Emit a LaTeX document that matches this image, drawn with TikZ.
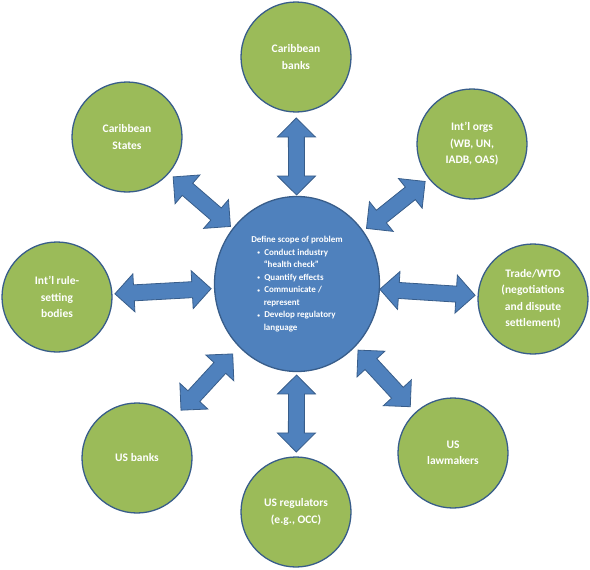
\documentclass[tikz,border=0pt]{standalone}
\usepackage{fontspec}
\setmainfont{Carlito}
\usetikzlibrary{calc,shapes.geometric}
\definecolor{olivefill}{HTML}{9BBB59}
\definecolor{bluefill}{HTML}{4F81BD}
\definecolor{blueline}{HTML}{385D8A}
\tikzset{
  outer/.style={circle, draw=blueline, line width=1.3pt, fill=olivefill,
    minimum size=110pt, inner sep=0pt, align=center, text=white,
    font=\bfseries\fontsize{11.5}{16.5}\selectfont},
  core/.style={ellipse, draw=blueline, line width=1.3pt, fill=bluefill,
    minimum width=165pt, minimum height=175pt, inner sep=0pt,
    align=left, text=white, font=\bfseries\fontsize{9}{12.5}\selectfont},
  blockarrow/.style={fill=bluefill, draw=blueline, line width=0.8pt, line join=miter},
}
\newcommand\cbul{\hspace*{6pt}\makebox[7pt][l]{\raisebox{0.6pt}{\scalebox{0.6}{\textbullet}}}}
\newcommand\ccont{\hspace*{12.5pt}}
% #1 centre node, #2 outer node, #3 start distance from #1, #4 end distance from #2
\newcommand\blockarr[4]{%
  \coordinate (bA) at ($(#1.center)!#3pt!(#2.center)$);
  \coordinate (bB) at ($(#2.center)!#4pt!(#1.center)$);
  \coordinate (bAh) at ($(bA)!19pt!(bB)$);
  \coordinate (bBh) at ($(bB)!19pt!(bA)$);
  \draw[blockarrow] (bA) -- ($(bAh)!19pt!90:(bB)$) -- ($(bAh)!8pt!90:(bB)$)
    -- ($(bBh)!8pt!-90:(bA)$) -- ($(bBh)!19pt!-90:(bA)$) -- (bB)
    -- ($(bBh)!19pt!90:(bA)$) -- ($(bBh)!8pt!90:(bA)$)
    -- ($(bAh)!8pt!-90:(bB)$) -- ($(bAh)!19pt!-90:(bB)$) -- cycle;
}
\begin{document}
\begin{tikzpicture}[x=1pt,y=-1pt]
\useasboundingbox (0,0) rectangle (590,570);
\node[core] (C) at (297,284) {Define scope of problem\\
\cbul Conduct industry\\
\ccont “health check”\\
\cbul Quantify effects\\
\cbul Communicate /\\
\ccont represent\\
\cbul Develop regulatory\\
\ccont language};
\node[outer] (cb) at (296,57) {Caribbean\\banks};
\node[outer] (io) at (472,144) {Int’l orgs\\(WB, UN,\\IADB, OAS)};
\node[outer] (tw) at (533,299) {Trade/WTO\\(negotiations\\and dispute\\settlement)};
\node[outer] (ul) at (453,453) {US\\lawmakers};
\node[outer] (ur) at (296,512) {US regulators\\(e.g., OCC)};
\node[outer] (ub) at (137,458) {US banks};
\node[outer] (ir) at (57,297) {Int’l rule-\\setting\\bodies};
\node[outer] (cs) at (127,137) {Caribbean\\States};
\blockarr{C}{cb}{89}{61}
\blockarr{C}{io}{89}{60}
\blockarr{C}{tw}{83}{58}
\blockarr{C}{ul}{90}{63}
\blockarr{C}{ur}{91}{60}
\blockarr{C}{ub}{95}{65}
\blockarr{C}{ir}{86}{58}
\blockarr{C}{cs}{88}{61}
\end{tikzpicture}
\end{document}
